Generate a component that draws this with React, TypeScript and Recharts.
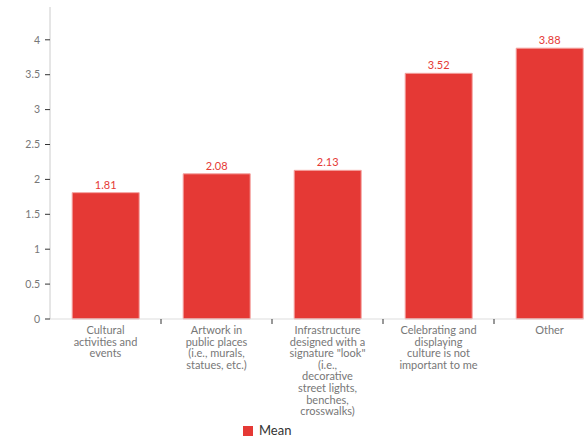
import { BarChart, Bar, XAxis, YAxis, Legend, LabelList } from "recharts";

const categories = [
  ["Cultural", "activities and", "events"],
  ["Artwork in", "public places", "(i.e., murals,", "statues, etc.)"],
  ["Infrastructure", "designed with a", 'signature "look"', "(i.e.,", "decorative", "street lights,", "benches,", "crosswalks)"],
  ["Celebrating and", "displaying", "culture is not", "important to me"],
  ["Other"],
];
const meanValues = [1.81, 2.08, 2.13, 3.52, 3.88];
const yTicks = [0, 0.5, 1, 1.5, 2, 2.5, 3, 3.5, 4];

const data = categories.map((lines, i) => ({
  name: lines.join(" "),
  idx: i,
  mean: meanValues[i],
}));

const FONT = "Lato, 'Noto Sans', sans-serif";
const RED = "#e53935";

const CategoryTick = (props: any) => {
  const { x, y, payload, index } = props;
  const lines = categories[payload.value] || [];
  const half = 55.5;
  return (
    <g>
      {index > 0 && (
        <line x1={x - half} x2={x - half} y1={y - 8} y2={y - 3} stroke="#333" strokeWidth={1} />
      )}
      <text x={x} y={y + 7} textAnchor="middle" fill="#777" fontSize={11} fontFamily={FONT}>
        {lines.map((l: string, i: number) => (
          <tspan key={i} x={x} dy={i === 0 ? 0 : 11.6}>
            {l}
          </tspan>
        ))}
      </text>
    </g>
  );
};

const LegendContent = () => (
  <div style={{ position: "relative", height: 19, fontFamily: FONT }}>
    <div style={{ position: "absolute", left: 243, top: 8, width: 10, height: 10, background: RED }} />
    <span style={{ position: "absolute", left: 259, top: 4, fontSize: 13, color: "#333" }}>Mean</span>
  </div>
);

export default function App() {
  return (
    <div style={{ position: "absolute", left: 0, top: 0, width: 584, height: 437, overflow: "hidden", background: "#fff" }}>
      <BarChart
        width={610}
        height={437}
        data={data}
        margin={{ top: 7, right: 5, bottom: 0, left: 0 }}
        barCategoryGap="20%"
      >
        <XAxis
          dataKey="idx"
          interval={0}
          height={99}
          tickLine={false}
          axisLine={{ stroke: "#ddd" }}
          tick={<CategoryTick />}
        />
        <YAxis
          width={50}
          domain={[0, 4.47]}
          ticks={yTicks}
          interval={0}
          tickSize={5}
          tickMargin={5}
          tickLine={{ stroke: "#333" }}
          axisLine={{ stroke: "#ccc" }}
          tick={{ fill: "#777", fontSize: 10.5, fontFamily: FONT }}
        />
        <Legend verticalAlign="bottom" content={<LegendContent />} />
        <Bar dataKey="mean" fill={RED} stroke="#f4a3a1" strokeWidth={1} isAnimationActive={false}>
          <LabelList dataKey="mean" position="top" offset={4} fill={RED} fontSize={11} fontFamily={FONT} />
        </Bar>
      </BarChart>
    </div>
  );
}
